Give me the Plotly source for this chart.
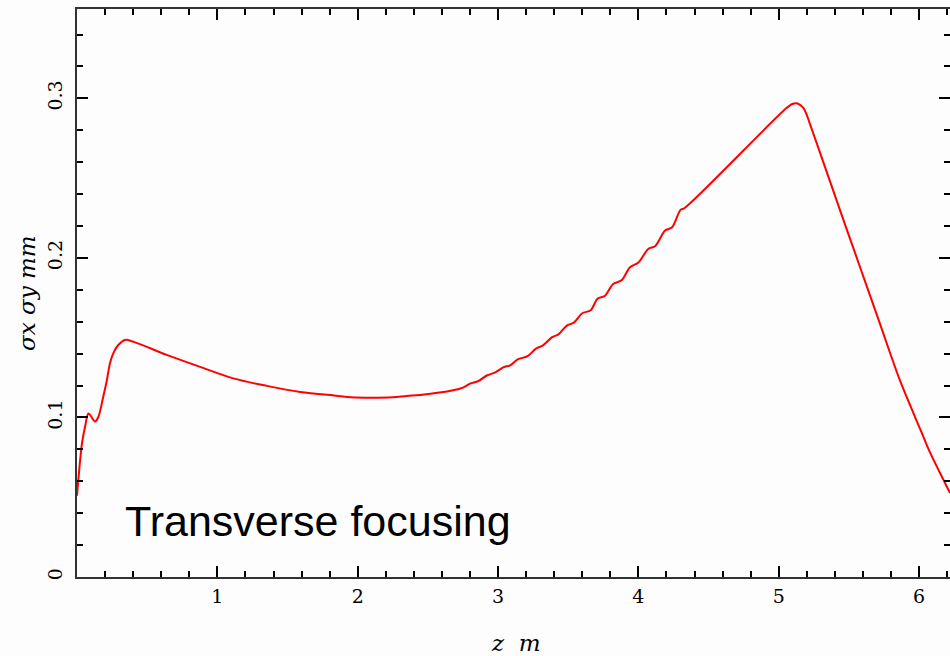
import plotly.graph_objects as go

# beam size along z
z_m = [0.0, 0.036, 0.057, 0.08, 0.093, 0.128, 0.152, 0.187, 0.211, 0.235, 0.259,
       0.294, 0.342, 0.40, 0.639, 0.877, 1.114, 1.352, 1.59, 1.86, 1.95, 2.1, 2.25,
       2.35, 2.445, 2.68, 2.75, 2.80, 2.86, 2.92, 2.98, 3.04, 3.086, 3.14, 3.21,
       3.27, 3.32, 3.385, 3.43, 3.49, 3.54, 3.60, 3.66, 3.71, 3.76, 3.82, 3.88,
       3.94, 4.00, 4.07, 4.12, 4.19, 4.24, 4.30, 4.33, 5.055, 5.10, 5.135, 5.175,
       5.198, 5.22, 5.295, 5.44, 5.58, 5.72, 5.86, 6.01, 6.08, 6.15, 6.22]
sigma_mm = [0.051, 0.084, 0.094, 0.1024, 0.1016, 0.0974, 0.1003, 0.113, 0.1225,
            0.134, 0.1403, 0.1454, 0.1486, 0.1475, 0.1392, 0.1317, 0.1245, 0.1198,
            0.116, 0.1135, 0.1126, 0.1123, 0.1126, 0.1135, 0.1141, 0.117, 0.1187,
            0.1212, 0.1228, 0.1263, 0.1283, 0.1315, 0.1327, 0.1364, 0.1384, 0.1431,
            0.1452, 0.1503, 0.1521, 0.1576, 0.1594, 0.1653, 0.1672, 0.1745, 0.1761,
            0.1836, 0.186, 0.1941, 0.1971, 0.2056, 0.2075, 0.2172, 0.2192, 0.2301,
            0.2313, 0.2939, 0.2966, 0.2968, 0.294, 0.290, 0.2845, 0.2657, 0.229,
            0.194, 0.159, 0.124, 0.0922, 0.0776, 0.065, 0.0526]

x_ticks = [1, 2, 3, 4, 5, 6]
x_labels = ["1", "2", "3", "4", "5", "6"]
y_ticks = [0, 0.1, 0.2, 0.3]
y_labels = ["0", "0.1", "0.2", "0.3"]
x_title = "<i>z\u00a0\u00a0m</i>"
y_title = "<i>σx σy mm</i>"
note = "Transverse focusing"

BG = "#fdfdfd"
tickfont = dict(family="DejaVu Serif", size=19, color="#000")
titlefont = dict(family="DejaVu Serif", size=23, color="#000")

fig = go.Figure()
fig.add_trace(go.Scatter(x=z_m, y=sigma_mm, mode="lines",
                         line=dict(color="#ff0000", width=2, shape="spline", smoothing=0.9),
                         hoverinfo="skip", showlegend=False))

fig.add_annotation(text=note, xref="paper", yref="y",
                   x=(123 - 77) / 873, y=0.0352, xanchor="left", yanchor="middle",
                   showarrow=False,
                   font=dict(family="Liberation Sans", size=43, color="#000"))
# axis titles placed as annotations for exact positioning
fig.add_annotation(text=x_title, xref="paper", yref="paper", x=(516 - 77) / 873, y=0,
                   yanchor="middle", xanchor="center", yshift=-66, showarrow=False,
                   font=titlefont)
fig.add_annotation(text=y_title, xref="paper", yref="paper", x=0, y=0.5,
                   xanchor="center", yanchor="middle", xshift=-50, textangle=-90,
                   showarrow=False, font=titlefont)

fig.update_xaxes(range=[0, 6.22], tickmode="array", tickvals=x_ticks, ticktext=x_labels,
                 ticks="inside", ticklen=11, tickwidth=2, tickcolor="#000",
                 minor=dict(dtick=0.2, tick0=0, ticks="inside", ticklen=6, tickwidth=1.5,
                            tickcolor="#000", showgrid=False),
                 showline=True, linecolor="#333", linewidth=2, mirror="allticks",
                 showgrid=False, zeroline=False, tickfont=tickfont,
                 ticklabelstandoff=1, automargin=False)
fig.update_yaxes(range=[0, 0.356], tickmode="array", tickvals=y_ticks, ticktext=y_labels,
                 ticks="inside", ticklen=11, tickwidth=2, tickcolor="#000", tickangle=-90,
                 minor=dict(dtick=0.02, tick0=0, ticks="inside", ticklen=6, tickwidth=1.5,
                            tickcolor="#000", showgrid=False),
                 showline=True, linecolor="#333", linewidth=2, mirror="allticks",
                 showgrid=False, zeroline=False, tickfont=tickfont,
                 ticklabelstandoff=5, automargin=False)

fig.update_layout(width=950, height=656, margin=dict(l=77, r=0, t=9, b=79),
                  paper_bgcolor=BG, plot_bgcolor=BG)

fig.write_html("out.html", config={"displayModeBar": False},
               post_script="document.body.style.margin='0';"
                           "document.body.style.background='#fdfdfd';")
